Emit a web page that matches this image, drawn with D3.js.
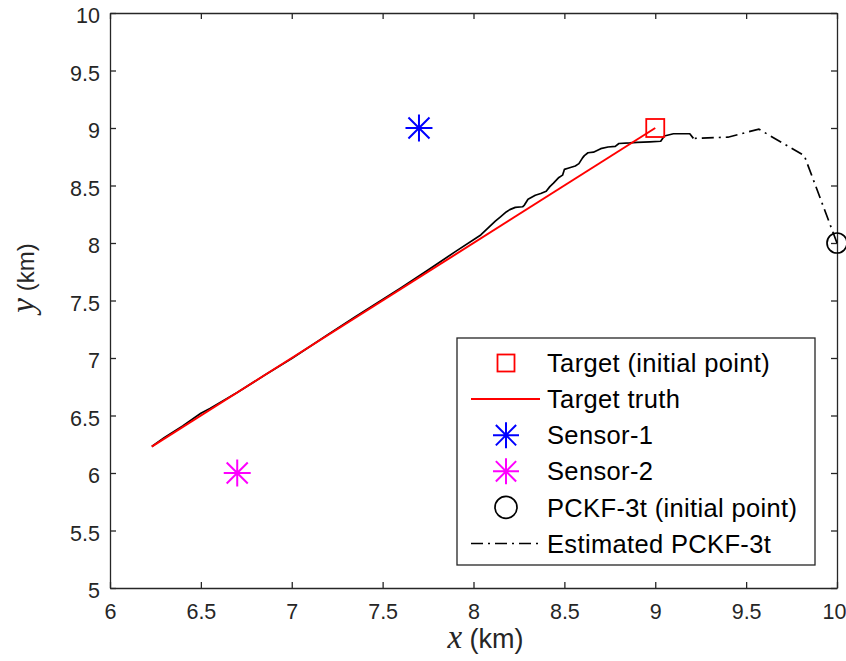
<!DOCTYPE html>
<html>
<head>
<meta charset="utf-8">
<script src="https://cdn.jsdelivr.net/npm/d3@7"></script>
<style>
	body { margin: 0; background: #fff; }
	svg { font-family: "Liberation Sans", Arial, sans-serif; }
	.axis path, .axis line { stroke: #262626; stroke-width: 1.3; }
	.axis text { fill: #262626; font-size: 21.5px; font-family: "Liberation Sans", Arial, sans-serif; }
</style>
</head>
<body>
<div id="viz"></div>
<script>
// ticks
var xTicks = [6, 6.5, 7, 7.5, 8, 8.5, 9, 9.5, 10];
var yTicks = [5, 5.5, 6, 6.5, 7, 7.5, 8, 8.5, 9, 9.5, 10];

// target truth (straight track from initial point)
var truthX = [9.0, 6.23];
var truthY = [9.0, 6.23];

// target initial point
var targetX = [9.0];
var targetY = [9.0];

// sensors
var sensor1 = [7.7, 9.0];
var sensor2 = [6.7, 6.0];

// PCKF-3t initial point
var pckfInitX = [10.0];
var pckfInitY = [8.0];

// estimated PCKF-3t track
var estX = [10.0, 9.82, 9.57, 9.40, 9.21, 9.19, 9.10, 9.05, 9.03, 8.97, 8.90, 8.86, 8.80, 8.78, 8.74, 8.70,
	8.66, 8.63, 8.61, 8.60, 8.58, 8.56, 8.52, 8.50, 8.49, 8.47, 8.44, 8.42, 8.40, 8.37, 8.34, 8.30,
	8.28, 8.27, 8.23, 8.20, 8.18, 8.15, 8.12, 8.04, 7.90, 7.75, 7.60, 7.50, 7.35, 7.20, 7.00, 6.85,
	6.70, 6.55, 6.50, 6.40, 6.30, 6.23];
var estY = [8.0, 8.76, 8.99, 8.92, 8.91, 8.95, 8.95, 8.93, 8.885, 8.88, 8.875, 8.87, 8.865, 8.84, 8.835, 8.82,
	8.79, 8.785, 8.76, 8.74, 8.69, 8.67, 8.65, 8.64, 8.59, 8.57, 8.52, 8.49, 8.45, 8.43, 8.415, 8.38,
	8.33, 8.315, 8.31, 8.29, 8.27, 8.23, 8.19, 8.07, 7.925, 7.765, 7.61, 7.51, 7.36, 7.205, 6.995, 6.85,
	6.70, 6.56, 6.52, 6.41, 6.31, 6.23];
var dashedUntil = 4; // first part of the estimate drawn dash-dot

var width = 846,
	height = 661,
	margin = { left: 110, right: 9, top: 13, bottom: 73 };

var svg = d3.select('#viz')
	.append('svg')
	.attr('width', width)
	.attr('height', height);

var x = d3.scaleLinear().domain([6, 10]).range([margin.left, width - margin.right]);
var y = d3.scaleLinear().domain([5, 10]).range([height - margin.bottom, margin.top]);

var fmt = function(d){ return d3.format('~g')(d); };

// axes, ticks inside (box on)
var xAxis = svg.append('g')
	.attr('class', 'axis')
	.attr('transform', 'translate(0,' + y(5) + ')')
	.call(d3.axisBottom(x).tickValues(xTicks).tickFormat(fmt).tickSizeInner(-6).tickSizeOuter(0).tickPadding(16));

// last label sits at the page edge, keep it inside
xAxis.selectAll('.tick text')
	.filter(function(d){ return d === 10; })
	.attr('dx', -3);

svg.append('g')
	.attr('class', 'axis')
	.attr('transform', 'translate(0,' + y(10) + ')')
	.call(d3.axisTop(x).tickValues(xTicks).tickFormat('').tickSizeInner(-6).tickSizeOuter(0));

svg.append('g')
	.attr('class', 'axis')
	.attr('transform', 'translate(' + x(6) + ',0)')
	.call(d3.axisLeft(y).tickValues(yTicks).tickFormat(fmt).tickSizeInner(-6).tickSizeOuter(0).tickPadding(10))
	.selectAll('.tick text')
		.attr('dy', '0.45em');

svg.append('g')
	.attr('class', 'axis')
	.attr('transform', 'translate(' + x(10) + ',0)')
	.call(d3.axisRight(y).tickValues(yTicks).tickFormat('').tickSizeInner(-6).tickSizeOuter(0));

// axis labels
var xLabel = svg.append('text')
	.attr('x', (x(6) + x(10)) / 2 + 12)
	.attr('y', 648)
	.attr('text-anchor', 'middle')
	.style('fill', '#262626');
xLabel.append('tspan').text('x')
	.style('font-family', '"Liberation Serif", "DejaVu Serif", serif')
	.style('font-style', 'italic')
	.style('font-size', '33px');
xLabel.append('tspan').text(' (km)').style('font-size', '27px');

var yLabel = svg.append('text')
	.attr('transform', 'translate(34,' + 278 + ') rotate(-90)')
	.attr('text-anchor', 'middle')
	.style('fill', '#262626');
yLabel.append('tspan').text('y')
	.style('font-family', '"Liberation Serif", "DejaVu Serif", serif')
	.style('font-style', 'italic')
	.style('font-size', '33px');
yLabel.append('tspan').text(' (km)').style('font-size', '24px');

// plot content
var plot = svg.append('g');

var line = d3.line()
	.x(function(d){ return x(d[0]); })
	.y(function(d){ return y(d[1]); });

var est = estX.map(function(d, i){ return [d, estY[i]]; });

plot.append('path')
	.datum(est.slice(0, dashedUntil + 1))
	.attr('d', line)
	.style('fill', 'none')
	.style('stroke', '#000')
	.style('stroke-width', 1.7)
	.style('stroke-dasharray', '12,5,2,5');

plot.append('path')
	.datum(est.slice(dashedUntil))
	.attr('d', line)
	.style('fill', 'none')
	.style('stroke', '#000')
	.style('stroke-width', 1.7)
	.style('stroke-linejoin', 'round');

plot.append('path')
	.datum(truthX.map(function(d, i){ return [d, truthY[i]]; }))
	.attr('d', line)
	.style('fill', 'none')
	.style('stroke', '#ff0000')
	.style('stroke-width', 2);

// markers
function starPath(r){
	var dg = r * 0.78;
	return 'M' + (-r) + ',0H' + r + 'M0,' + (-r) + 'V' + r +
		'M' + (-dg) + ',' + (-dg) + 'L' + dg + ',' + dg +
		'M' + (-dg) + ',' + dg + 'L' + dg + ',' + (-dg);
}

function drawSquare(g, cx, cy, s){
	g.append('rect')
		.attr('x', cx - s / 2).attr('y', cy - s / 2)
		.attr('width', s).attr('height', s)
		.style('fill', 'none').style('stroke', '#ff0000').style('stroke-width', 1.8);
}
function drawStar(g, cx, cy, r, color){
	g.append('path')
		.attr('d', starPath(r))
		.attr('transform', 'translate(' + cx + ',' + cy + ')')
		.style('fill', 'none').style('stroke', color).style('stroke-width', 2);
}
function drawCircle(g, cx, cy, r){
	g.append('circle')
		.attr('cx', cx).attr('cy', cy).attr('r', r)
		.style('fill', 'none').style('stroke', '#000').style('stroke-width', 1.7);
}

targetX.forEach(function(d, i){ drawSquare(plot, x(d), y(targetY[i]), 18); });
drawStar(plot, x(sensor1[0]), y(sensor1[1]), 13.5, '#0000ff');
drawStar(plot, x(sensor2[0]), y(sensor2[1]), 13.5, '#ff00ff');
pckfInitX.forEach(function(d, i){ drawCircle(plot, x(d), y(pckfInitY[i]), 10); });

// legend
var legendItems = ['Target (initial point)', 'Target truth', 'Sensor-1', 'Sensor-2', 'PCKF-3t (initial point)', 'Estimated PCKF-3t'];

var legend = svg.append('g')
	.attr('transform', 'translate(457,338)');

legend.append('rect')
	.attr('width', 358)
	.attr('height', 227)
	.style('fill', '#fff')
	.style('stroke', '#262626')
	.style('stroke-width', 1.3);

var rowY = function(i){ return 25 + i * 36.1; };

drawSquare(legend, 49, rowY(0), 17);
legend.append('line')
	.attr('x1', 14).attr('x2', 83).attr('y1', rowY(1)).attr('y2', rowY(1))
	.style('stroke', '#ff0000').style('stroke-width', 2);
drawStar(legend, 49, rowY(2), 13, '#0000ff');
drawStar(legend, 49, rowY(3), 13, '#ff00ff');
drawCircle(legend, 49, rowY(4), 11);
legend.append('line')
	.attr('x1', 14).attr('x2', 83).attr('y1', rowY(5)).attr('y2', rowY(5))
	.style('stroke', '#000').style('stroke-width', 1.7)
	.style('stroke-dasharray', '12,5,2,5');

legend.selectAll('.legend-text')
	.data(legendItems)
	.enter().append('text')
		.attr('class', 'legend-text')
		.attr('x', 90)
		.attr('y', function(d, i){ return rowY(i); })
		.attr('dy', '0.36em')
		.style('font-size', '25.5px')
		.style('letter-spacing', '0.35px')
		.style('fill', '#000')
		.text(function(d){ return d; });
</script>
</body>
</html>
